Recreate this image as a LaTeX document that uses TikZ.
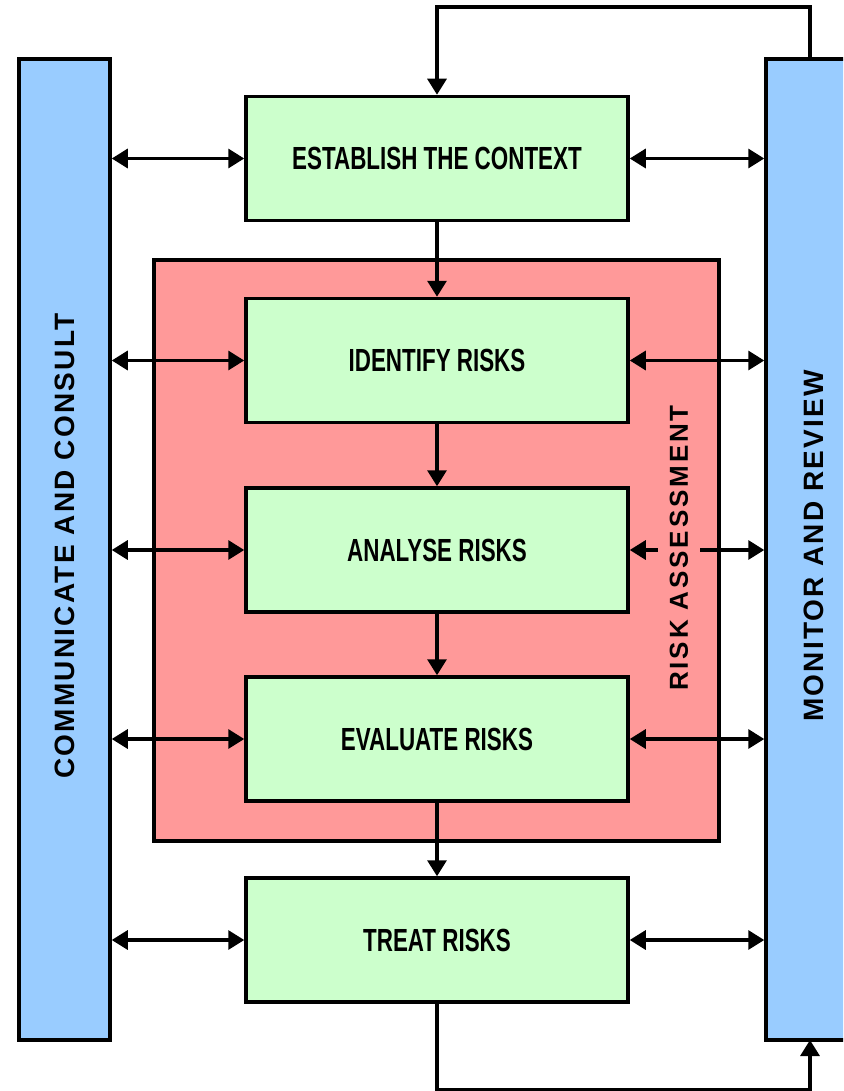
\documentclass[tikz,border=0pt]{standalone}
\usepackage{fontspec}
\setmainfont{Liberation Sans}
\newfontfamily\narrowfont[FakeStretch=0.70]{Liberation Sans}
\newfontfamily\spacedfont[LetterSpace=8]{Liberation Sans}
\newfontfamily\widefont[LetterSpace=11]{Liberation Sans}
\usetikzlibrary{arrows.meta}
\definecolor{bluefill}{HTML}{99CCFF}
\definecolor{greenfill}{HTML}{CCFFCC}
\definecolor{redfill}{HTML}{FF9999}
\tikzset{
  greenbox/.style={draw=black, line width=3.5pt, fill=greenfill, minimum width=382pt, minimum height=124pt, inner sep=0pt, font=\narrowfont\bfseries\fontsize{32}{36}\selectfont},
  bluebar/.style={draw=black, line width=3.5pt, fill=bluefill, minimum width=91pt, minimum height=981pt, inner sep=0pt},
  redarea/.style={draw=black, line width=3.5pt, fill=redfill, minimum width=565pt, minimum height=581pt, inner sep=0pt},
  sidelabel/.style={rotate=90, font=\spacedfont\bfseries\fontsize{28}{32}\selectfont, inner sep=0pt},
  connector/.style={line width=3.2pt, -{Triangle[length=16pt, width=19pt]}},
  twoway/.style={line width=3.2pt, {Triangle[length=16pt, width=19pt]}-{Triangle[length=16pt, width=19pt]}}
}
\begin{document}
\begin{tikzpicture}[x=1pt, y=-1pt]
\useasboundingbox (0,0) rectangle (843,1091);
\clip (0,0) rectangle (843,1091);
\fill[white] (0,0) rectangle (843,1091);

\node[redarea] (ra) at (436.5,550.5) {};
\node[bluebar] (left) at (64.5,549.5) {};
\node[bluebar, minimum width=160pt] (right) at (846,549.5) {};
\coordinate (rtop) at (810,59);
\coordinate (rbot) at (810,1040);

\node[greenbox] (est) at (437,158.5) {ESTABLISH THE CONTEXT};
\node[greenbox] (ide) at (437,360.5) {IDENTIFY RISKS};
\node[greenbox] (ana) at (437,550) {ANALYSE RISKS};
\node[greenbox] (eva) at (437,739) {EVALUATE RISKS};
\node[greenbox] (tre) at (437,940) {TREAT RISKS};

\node[sidelabel] (ll) at (65,546) {COMMUNICATE AND CONSULT};
\node[sidelabel] (rl) at (814,546) {MONITOR AND REVIEW};

% vertical flow
\draw[connector] (est.south) -- (ide.north);
\draw[connector] (ide.south) -- (ana.north);
\draw[connector] (ana.south) -- (eva.north);
\draw[connector] (eva.south) -- (tre.north);

% loops
\draw[connector] (rtop) -- ++(0,-52) -| (est.north);
\draw[connector] (tre.south) -- ++(0,86) -| (rbot);

% two-way links
\foreach \b in {est,ide,ana,eva,tre}{
  \draw[twoway] (left.east |- \b.west) -- (\b.west);
  \draw[twoway] (\b.east) -- (right.west |- \b.east);
}

\node[rotate=90, fill=redfill, inner xsep=4pt, inner ysep=12pt, font=\widefont\bfseries\fontsize{26}{30}\selectfont] (rlab) at (679,548) {RISK ASSESSMENT};
\end{tikzpicture}
\end{document}
